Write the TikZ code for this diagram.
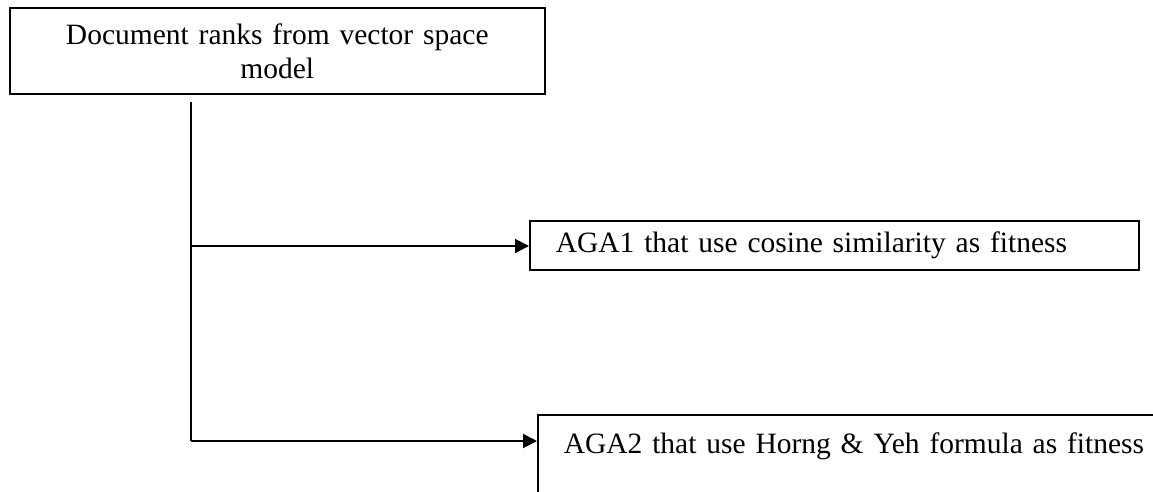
\documentclass[tikz,border=0pt]{standalone}
\usepackage{fontspec}
\setmainfont{Liberation Serif}
\usetikzlibrary{arrows.meta}
\begin{document}
\begin{tikzpicture}[x=1pt,y=-1pt,
  box/.style={draw, line width=1.6pt, inner ysep=0pt, font=\fontsize{29.5}{34}\selectfont},
  link/.style={line width=2pt},
  arrowlink/.style={link, -{Triangle[length=14pt,width=14pt]}}]
\useasboundingbox (0,0) rectangle (1153,491);
\clip (0,0) rectangle (1153,491);
% source box
\node[box, anchor=north west, inner xsep=0pt, minimum width=535pt, minimum height=86pt,
      text width=535pt, align=center] (src) at (9,7)
  {Document ranks from vector space\\model};
% first target box
\node[box, anchor=north west, inner xsep=26pt, text width=557pt, align=left,
      minimum height=49pt] (aga1) at (529,220)
  {AGA1 that use cosine similarity as fitness};
% second target box, running past the right and bottom edges
\node[box, anchor=north west, inner xsep=26pt, inner ysep=18pt, text width=600pt,
      align=left, text height=21pt, text depth=60pt] (aga2) at (537,414)
  {AGA2 that use Horng \& Yeh formula as fitness};
% trunk and branches
\coordinate (trunktop) at (191,102);
\coordinate (branch1) at (191,246);
\coordinate (branch2) at (191,441);
\draw[link] (trunktop) -- (branch2);
\draw[arrowlink] (branch1) -- (branch1 -| aga1.west);
\draw[arrowlink] (branch2) -- (branch2 -| aga2.west);
\end{tikzpicture}
\end{document}
